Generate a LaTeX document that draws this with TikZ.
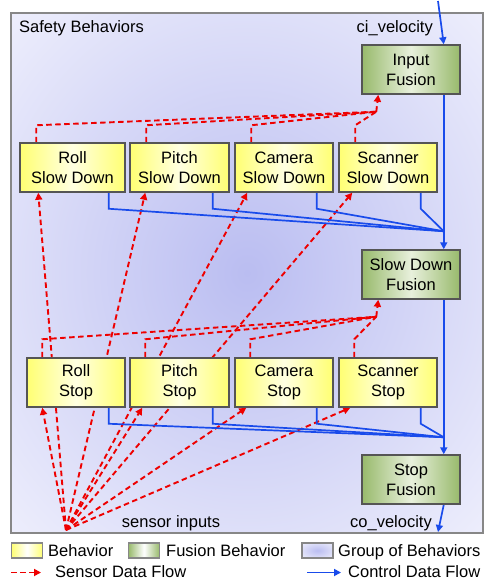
\documentclass[tikz,border=0pt]{standalone}
\usepackage{fontspec}
\setmainfont{Liberation Sans}
\usetikzlibrary{arrows.meta, calc, positioning}

\definecolor{BehYellow}{RGB}{255,255,115}
\definecolor{BehLight}{RGB}{255,255,225}
\definecolor{FusGreen}{RGB}{152,186,108}
\definecolor{FusLight}{RGB}{232,240,220}
\definecolor{GlowBlue}{RGB}{186,189,241}
\definecolor{GlowEdge}{RGB}{251,251,255}
\definecolor{CtrlBlue}{RGB}{25,75,235}
\definecolor{SensRed}{RGB}{238,0,0}
\definecolor{BoxLine}{RGB}{85,85,85}
\definecolor{GroupLine}{RGB}{135,135,135}

\pgfdeclareradialshading{groupglow}{\pgfpoint{0bp}{0bp}}{color(0bp)=(GlowBlue); color(45bp)=(GlowEdge); color(50bp)=(GlowEdge)}
\pgfdeclarelayer{back}
\pgfdeclarelayer{flow}
\pgfsetlayers{back,flow,main}

\begin{document}
\begin{tikzpicture}[x=1pt, y=-1pt, font=\fontsize{16.5}{20}\selectfont]
  \tikzstyle{behavior}=[draw=BoxLine, line width=1.5pt, left color=BehYellow,
    right color=BehYellow, middle color=BehLight, minimum height=49pt,
    inner sep=0pt, align=center]
  \tikzstyle{fusion}=[draw=BoxLine, line width=1.5pt, left color=FusGreen,
    right color=FusGreen, middle color=FusLight, minimum width=98pt,
    minimum height=49pt, inner sep=0pt, align=center]
  \tikzstyle{ctrl}=[CtrlBlue, line width=1.7pt]
  \tikzstyle{sens}=[SensRed, line width=1.9pt, dash pattern=on 5.5pt off 3.5pt]
  \tikzstyle{flowtip}=[-{Triangle[length=7pt, width=7pt]}]
  \tikzstyle{swatch}=[draw=GroupLine, line width=1.2pt, minimum width=31pt,
    minimum height=15pt, inner sep=0pt]
  \tikzstyle{label}=[inner sep=0pt]

  \useasboundingbox (0,0) rectangle (488,581);

  % group of behaviors
  \begin{pgfonlayer}{back}
    \shadedraw[shading=groupglow, draw=GroupLine, line width=1.8pt]
      (11,13) rectangle (483,533);
  \end{pgfonlayer}

  % Slow down behaviors
  \node[behavior, minimum width=105pt] (rollsd) at (72.5,167.5) {Roll\\Slow Down};
  \node[behavior, minimum width=99pt] (pitchsd) at (179.5,167.5) {Pitch\\Slow Down};
  \node[behavior, minimum width=98pt] (camsd) at (284,167.5) {Camera\\Slow Down};
  \node[behavior, minimum width=98pt] (scansd) at (388,167.5) {Scanner\\Slow Down};

  % Stop behaviors
  \node[behavior, minimum width=98pt] (rollstop) at (76,382.5) {Roll\\Stop};
  \node[behavior, minimum width=99pt] (pitchstop) at (179.5,382.5) {Pitch\\Stop};
  \node[behavior, minimum width=98pt] (camstop) at (284,382.5) {Camera\\Stop};
  \node[behavior, minimum width=98pt] (scanstop) at (388,382.5) {Scanner\\Stop};

  % Fusions
  \node[fusion] (infusion) at (411,69.5) {Input\\Fusion};
  \node[fusion] (sdfusion) at (411,274.5) {Slow Down\\Fusion};
  \node[fusion] (stopfusion) at (411,479.5) {Stop\\Fusion};

  % where the flows meet
  \coordinate (sensor) at (66,530);
  \coordinate (ciin) at (438,1);
  \coordinate (coout) at (438,532);
  \coordinate (inconv) at ($(infusion.south west)+(15,17)$);
  \coordinate (sdconv) at ($(sdfusion.south west)+(15,17)$);
  \coordinate (sdmerge) at ($(sdfusion.north east)+(-17,-18)$);
  \coordinate (stopmerge) at ($(stopfusion.north east)+(-17,-17)$);

  \begin{pgfonlayer}{flow}
    % Sensor data
    \foreach \b/\dx in {rollsd/19, pitchsd/16, camsd/13, scansd/14,
      rollstop/16, pitchstop/13, camstop/12, scanstop/12}
      \draw[sens, flowtip] (sensor) -- ($(\b.south west)+(\dx,0)$);
    \foreach \b in {rollsd, pitchsd, camsd, scansd}
      \draw[sens] ($(\b.north west)+(17,0)$) -- ++(0,-17) -- (inconv);
    \draw[sens, flowtip] (inconv) -- ($(infusion.south west)+(17,0)$);
    \foreach \b in {rollstop, pitchstop, camstop, scanstop}
      \draw[sens] ($(\b.north west)+(16,0)$) -- ++(0,-18) -- (sdconv);
    \draw[sens, flowtip] (sdconv) -- ($(sdfusion.south west)+(17,0)$);

    % Control data
    \draw[ctrl, flowtip] (ciin) -- ($(infusion.north east)+(-17,0)$);
    \draw[ctrl, flowtip] ($(infusion.south east)+(-17,0)$) -- ($(sdfusion.north east)+(-17,0)$);
    \foreach \b in {rollsd, pitchsd, camsd, scansd}
      \draw[ctrl] ($(\b.south east)+(-17,0)$) -- ++(0,16) -- (sdmerge);
    \draw[ctrl, flowtip] ($(sdfusion.south east)+(-17,0)$) -- ($(stopfusion.north east)+(-17,0)$);
    \foreach \b in {rollstop, pitchstop, camstop, scanstop}
      \draw[ctrl] ($(\b.south east)+(-17,0)$) -- ++(0,16) -- (stopmerge);
    \draw[ctrl, flowtip] ($(stopfusion.south east)+(-17,0)$) -- (coout);
  \end{pgfonlayer}

  %% Labels
  \node[label, anchor=base west] (title) at (19,32) {Safety Behaviors};
  \node[label, anchor=base east] (cilabel) at (433,32) {ci\_velocity};
  \node[label, anchor=base east] (colabel) at (432,527) {co\_velocity};
  \node[label, anchor=base] (senslabel) at (171,527) {sensor inputs};

  %% Legend
  \node[swatch, left color=BehYellow, right color=BehYellow, middle color=white]
    (behsw) at (27,550.5) {};
  \node[label, anchor=base west] (behtext) at (48,556) {Behavior};
  \node[swatch, left color=FusGreen, right color=FusGreen, middle color=white]
    (fussw) at (144,550.5) {};
  \node[label, anchor=base west] (fustext) at (166,556) {Fusion Behavior};
  \node[swatch, shading=groupglow] (grpsw) at (317.5,550.5) {};
  \node[label, anchor=base west] (grptext) at (338,556) {Group of Behaviors};

  \coordinate (sensa) at (11,572.5);
  \coordinate (sensb) at (41,572.5);
  \draw[sens, flowtip] (sensa) -- (sensb);
  \node[label, anchor=base west] (senstext) at (55,577.5) {Sensor Data Flow};
  \coordinate (ctrla) at (307,572.5);
  \coordinate (ctrlb) at (341,572.5);
  \draw[ctrl, flowtip] (ctrla) -- (ctrlb);
  \node[label, anchor=base west] (ctrltext) at (348,577.5) {Control Data Flow};
\end{tikzpicture}
\end{document}
